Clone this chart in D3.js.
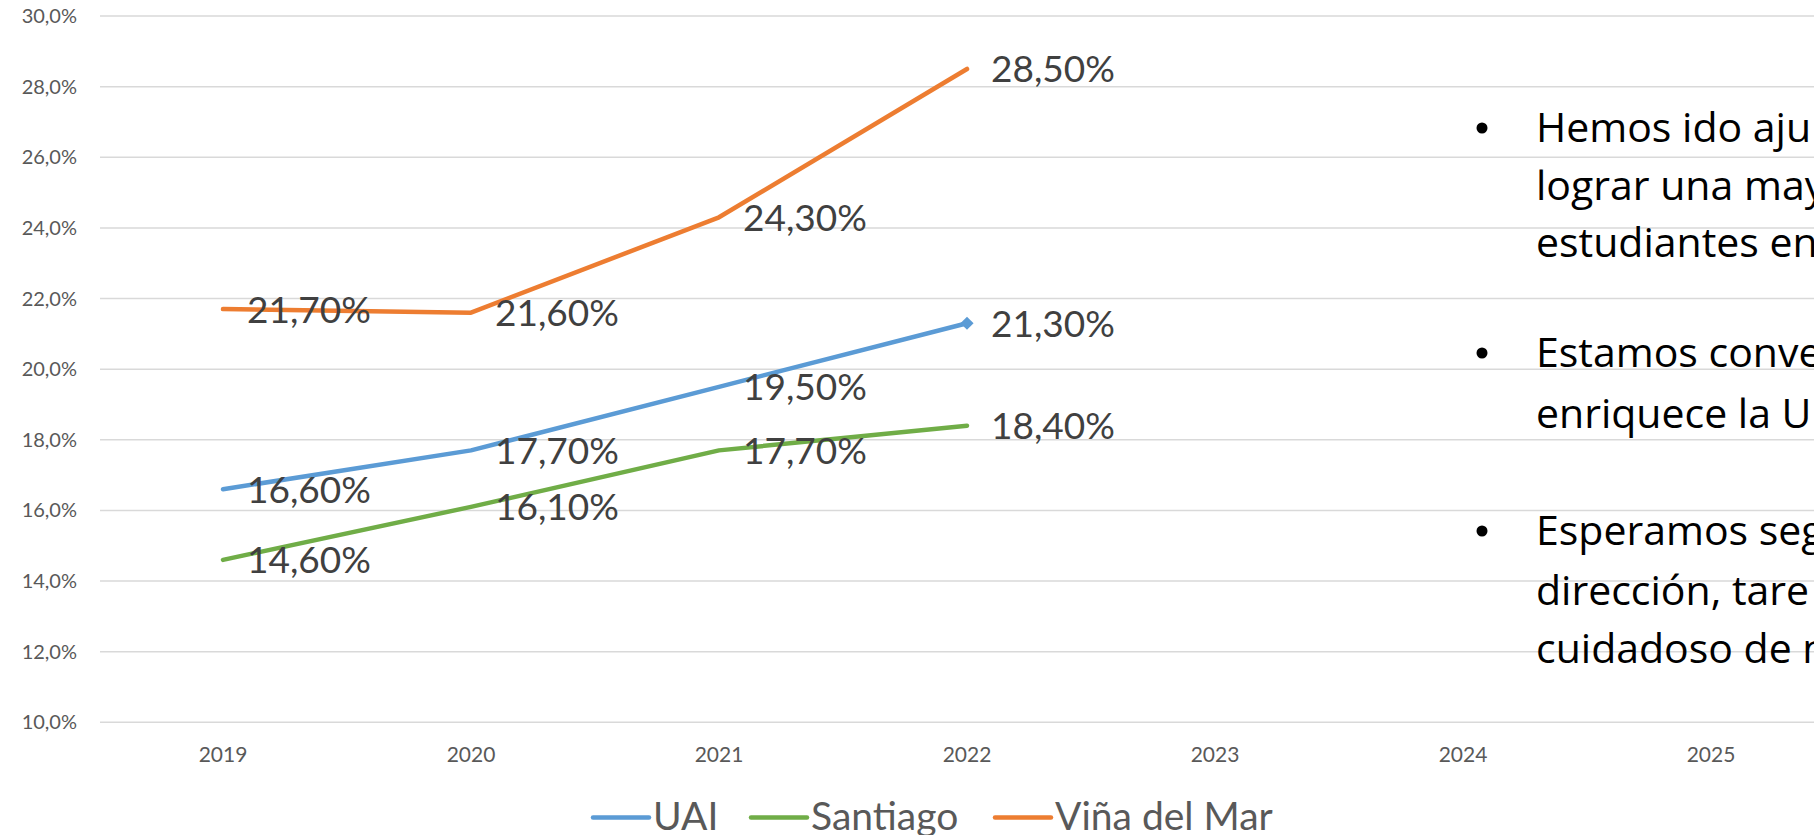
<!DOCTYPE html>
<html>
<head>
<meta charset="utf-8">
<script src="https://cdn.jsdelivr.net/npm/d3@7"></script>
<style>
    html, body { margin: 0; padding: 0; background: #fff; overflow: hidden; }
    svg { display: block; font-family: Lato, "Open Sans", sans-serif; }
</style>
</head>
<body>
<svg id="chart" width="1814" height="835"></svg>
<script>
const years = ["2019", "2020", "2021", "2022", "2023", "2024", "2025"];
const uai = [16.6, 17.7, 19.5, 21.3];
const santiago = [14.6, 16.1, 17.7, 18.4];
const vina = [21.7, 21.6, 24.3, 28.5];
const yTicks = [10, 12, 14, 16, 18, 20, 22, 24, 26, 28, 30];

const seriesNames = ["UAI", "Santiago", "Viña del Mar"];
const seriesColors = ["#5b9bd5", "#70ad47", "#ed7d31"];

const bullets = [
    ["Hemos ido aju", "lograr una may", "estudiantes en"],
    ["Estamos conve", "enriquece la U"],
    ["Esperamos seg", "dirección, tare", "cuidadoso de n"]
];

const svg = d3.select("#chart");

const x = d3.scaleBand()
    .domain(years)
    .range([99, 99 + 248 * years.length]);
const xc = d => x(d) + x.bandwidth() / 2;

const y = d3.scaleLinear()
    .domain([10, 30])
    .range([722.3, 16]);

const fmtTick = d => d.toFixed(1).replace(".", ",") + "%";
const fmtLabel = d => d.toFixed(2).replace(".", ",") + "%";

// grid lines
svg.append("g")
    .selectAll("line")
    .data(yTicks)
    .join("line")
    .attr("x1", 100)
    .attr("x2", 1814)
    .attr("y1", d => y(d))
    .attr("y2", d => y(d))
    .attr("stroke", "#d9d9d9")
    .attr("stroke-width", 1.5);

// y axis labels
svg.append("g")
    .selectAll("text")
    .data(yTicks)
    .join("text")
    .attr("x", 77)
    .attr("y", d => y(d) + 7)
    .attr("text-anchor", "end")
    .attr("fill", "#595959")
    .style("font-size", "20px")
    .text(fmtTick);

// x axis labels
svg.append("g")
    .selectAll("text")
    .data(years)
    .join("text")
    .attr("x", d => xc(d))
    .attr("y", 762)
    .attr("text-anchor", "middle")
    .attr("fill", "#595959")
    .style("font-size", "21px")
    .text(d => d);

const series = [uai, santiago, vina].map((vals, i) => ({
    name: seriesNames[i],
    color: seriesColors[i],
    points: vals.map((v, j) => ({ year: years[j], value: v }))
}));

const line = d3.line()
    .x(d => xc(d.year))
    .y(d => y(d.value));

// lines
svg.append("g")
    .selectAll("path")
    .data(series)
    .join("path")
    .attr("d", d => line(d.points))
    .attr("fill", "none")
    .attr("stroke", d => d.color)
    .attr("stroke-width", 4.5)
    .attr("stroke-linecap", "round")
    .attr("stroke-linejoin", "round");

// diamond marker on last UAI point
const lastUai = series[0].points[series[0].points.length - 1];
svg.append("path")
    .attr("d", d3.symbol().type(d3.symbolDiamond2).size(110)())
    .attr("transform", `translate(${xc(lastUai.year)},${y(lastUai.value)})`)
    .attr("fill", seriesColors[0]);

// data labels, right of each point
series.forEach(s => {
    svg.append("g")
        .selectAll("text")
        .data(s.points)
        .join("text")
        .attr("x", d => xc(d.year) + 24)
        .attr("y", d => y(d.value) + 13.5)
        .attr("fill", "#404040")
        .style("font-size", "37px")
        .text(d => fmtLabel(d.value));
});

// legend
const legendX = [593, 751, 995];
const legend = svg.append("g")
    .selectAll("g")
    .data(series)
    .join("g")
    .attr("transform", (d, i) => `translate(${legendX[i]},817.5)`);

legend.append("line")
    .attr("x1", 0)
    .attr("x2", 56)
    .attr("stroke", d => d.color)
    .attr("stroke-width", 4.5)
    .attr("stroke-linecap", "round");

legend.append("text")
    .attr("x", 60)
    .attr("y", 12)
    .attr("fill", "#595959")
    .style("font-size", "39px")
    .text(d => d.name);

// bullet text box overlaying the right side
const bulletBaselines = [[142, 200, 257], [367, 428], [545, 605, 663]];
const box = svg.append("g")
    .style("font-family", "'Open Sans', Lato, sans-serif")
    .style("font-size", "41px")
    .attr("fill", "#000");

bullets.forEach((para, i) => {
    box.append("circle")
        .attr("cx", 1482)
        .attr("cy", bulletBaselines[i][0] - 14)
        .attr("r", 5.5)
        .attr("fill", "#000");
    para.forEach((ln, j) => {
        box.append("text")
            .attr("x", 1536)
            .attr("y", bulletBaselines[i][j])
            .text(ln);
    });
});
</script>
</body>
</html>
